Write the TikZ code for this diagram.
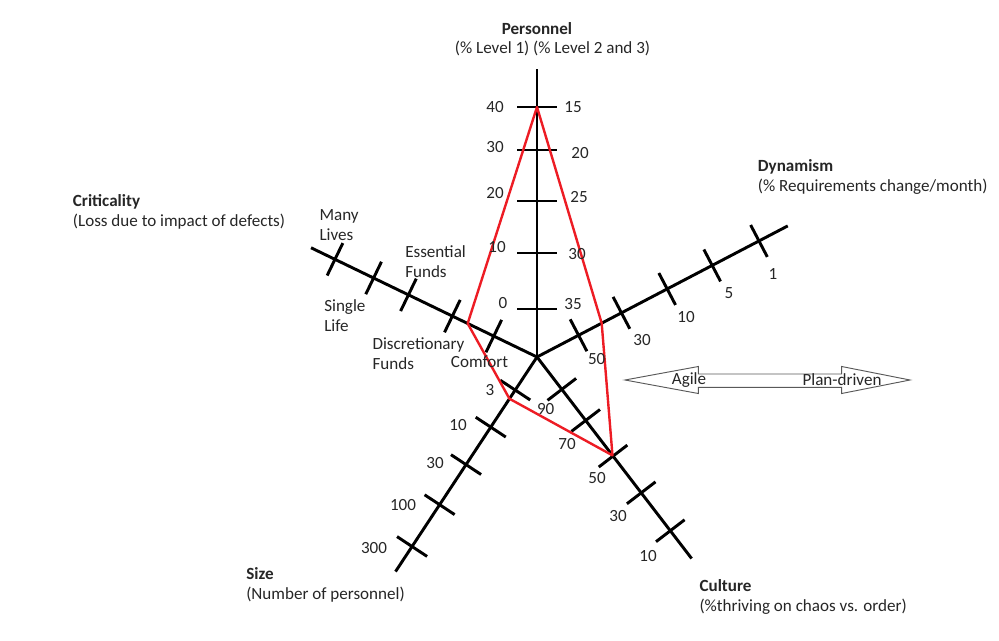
\documentclass[tikz,border=0pt]{standalone}
\usepackage{fontspec}
\setmainfont{Carlito}
\usepackage{xcolor}
\usepackage{tikz}
\definecolor{profilered}{RGB}{237,28,36}
\definecolor{labelgray}{RGB}{38,38,38}

\begin{document}
\begin{tikzpicture}[x=0.75pt,y=0.75pt,
        every node/.style={inner sep=0pt, text=labelgray, font=\fontsize{12.8}{15}\selectfont},
        axis/.style={line width=2.2pt, black},
        profile/.style={line width=1.8pt, profilered, line join=round},
        title/.style={anchor=west, align=left}]
        \useasboundingbox (-537,-283) rectangle (462,357);

        % axes
        \coordinate (c) at (0,0);
        \coordinate (pers) at (90:288);
        \coordinate (dyn) at (27.6:283);
        \coordinate (crit) at (154.2:251);
        \coordinate (size) at (236.6:257);
        \coordinate (cult) at (-52.5:254);
        \foreach \a in {pers,dyn,crit,size,cult}
            \draw[axis] (c) -- (\a);

        % ticks
        \foreach \d in {48,104,156,207,250}
            \draw[axis] (90:\d) ++(-19.5,0) -- ++(39,0);
        \foreach \d in {46.9,95.3,146.9,197.7,250.5}
            \draw[axis] (27.6:\d) ++(117.6:18) -- ++(-62.4:36);
        \foreach \d in {48,94,142.8,181.5,224.4}
            \draw[axis] (154.2:\d) ++(244.2:18) -- ++(64.2:36);
        \foreach \d in {39.6,84,128.9,176.9,227}
            \draw[axis] (236.6:\d) ++(326.6:18) -- ++(146.6:36);
        \foreach \d in {40.8,80,124.9,171.2,219}
            \draw[axis] (-52.5:\d) ++(37.5:18) -- ++(217.5:36);

        % project profile
        \coordinate (ppers) at (90:250);
        \coordinate (pdyn) at (27.6:73);
        \coordinate (pcult) at (-52.5:124);
        \coordinate (psize) at (236.6:50);
        \coordinate (pcrit) at (154.2:77);
        \draw[profile] (ppers) -- (pdyn) -- (pcult) -- (psize) -- (pcrit) -- cycle;

        % personnel
        \node (perst) at (0,328) {\textbf{Personnel}};
        \node (perss) at (15.5,309) {(\% Level 1) (\% Level 2 and 3)};
        \node (p40) at (-42,250) {40};
        \node (p30) at (-42,210) {30};
        \node (p20) at (-42,164) {20};
        \node (p10) at (-40,110) {10};
        \node (p0) at (-34,54) {0};
        \node (q15) at (36,250) {15};
        \node (q20) at (43,204) {20};
        \node (q25) at (42,160) {25};
        \node (q30) at (40,103) {30};
        \node (q35) at (36,53) {35};

        % dynamism
        \node[title] (dynt) at (220.7,180) {\textbf{Dynamism}\\(\% Requirements change/month)};
        \node (d50) at (59.7,-2) {50};
        \node (d30) at (105,17) {30};
        \node (d10) at (149,40.3) {10};
        \node (d5) at (192,64) {5};
        \node (d1) at (236,83) {1};

        % criticality
        \node[title] (critt) at (-464.3,145) {\textbf{Criticality}\\(Loss due to impact of defects)};
        \node[title] (manyl) at (-217.7,132) {Many\\Lives};
        \node[title] (essf) at (-132,95) {Essential\\Funds};
        \node[title] (singl) at (-213,41.5) {Single\\Life};
        \node[title] (discf) at (-164.7,3) {Discretionary\\Funds};
        \node[title] (comf) at (-86.3,-4.7) {Comfort};

        % size
        \node[title] (sizet) at (-291,-228) {\textbf{Size}\\(Number of personnel)};
        \node (s3) at (-47,-33) {3};
        \node (s10) at (-79,-68) {10};
        \node (s30) at (-102,-106) {30};
        \node (s100) at (-134,-148) {100};
        \node (s300) at (-163,-191) {300};

        % culture
        \node[title] (cultt) at (162.3,-239.7) {\textbf{Culture}\\(\%thriving on chaos vs. order)};
        \node (c90) at (8.7,-52.3) {90};
        \node (c70) at (30,-87) {70};
        \node (c50) at (60,-121) {50};
        \node (c30) at (81,-159) {30};
        \node (c10) at (111,-199) {10};

        % agile / plan-driven scale
        \draw[black!65, fill=white, line width=0.7pt] (88,-23) -- (161.3,-9.5) -- (161.3,-17) -- (304.7,-17)
            -- (304.7,-9.5) -- (373,-23) -- (304.7,-36.5) -- (304.7,-30.3) -- (161.3,-30.3) -- (161.3,-36.5) -- cycle;
        \node (agile) at (152,-23) {Agile};
        \node (plan) at (305,-23) {Plan-driven};
    \end{tikzpicture}
\end{document}
